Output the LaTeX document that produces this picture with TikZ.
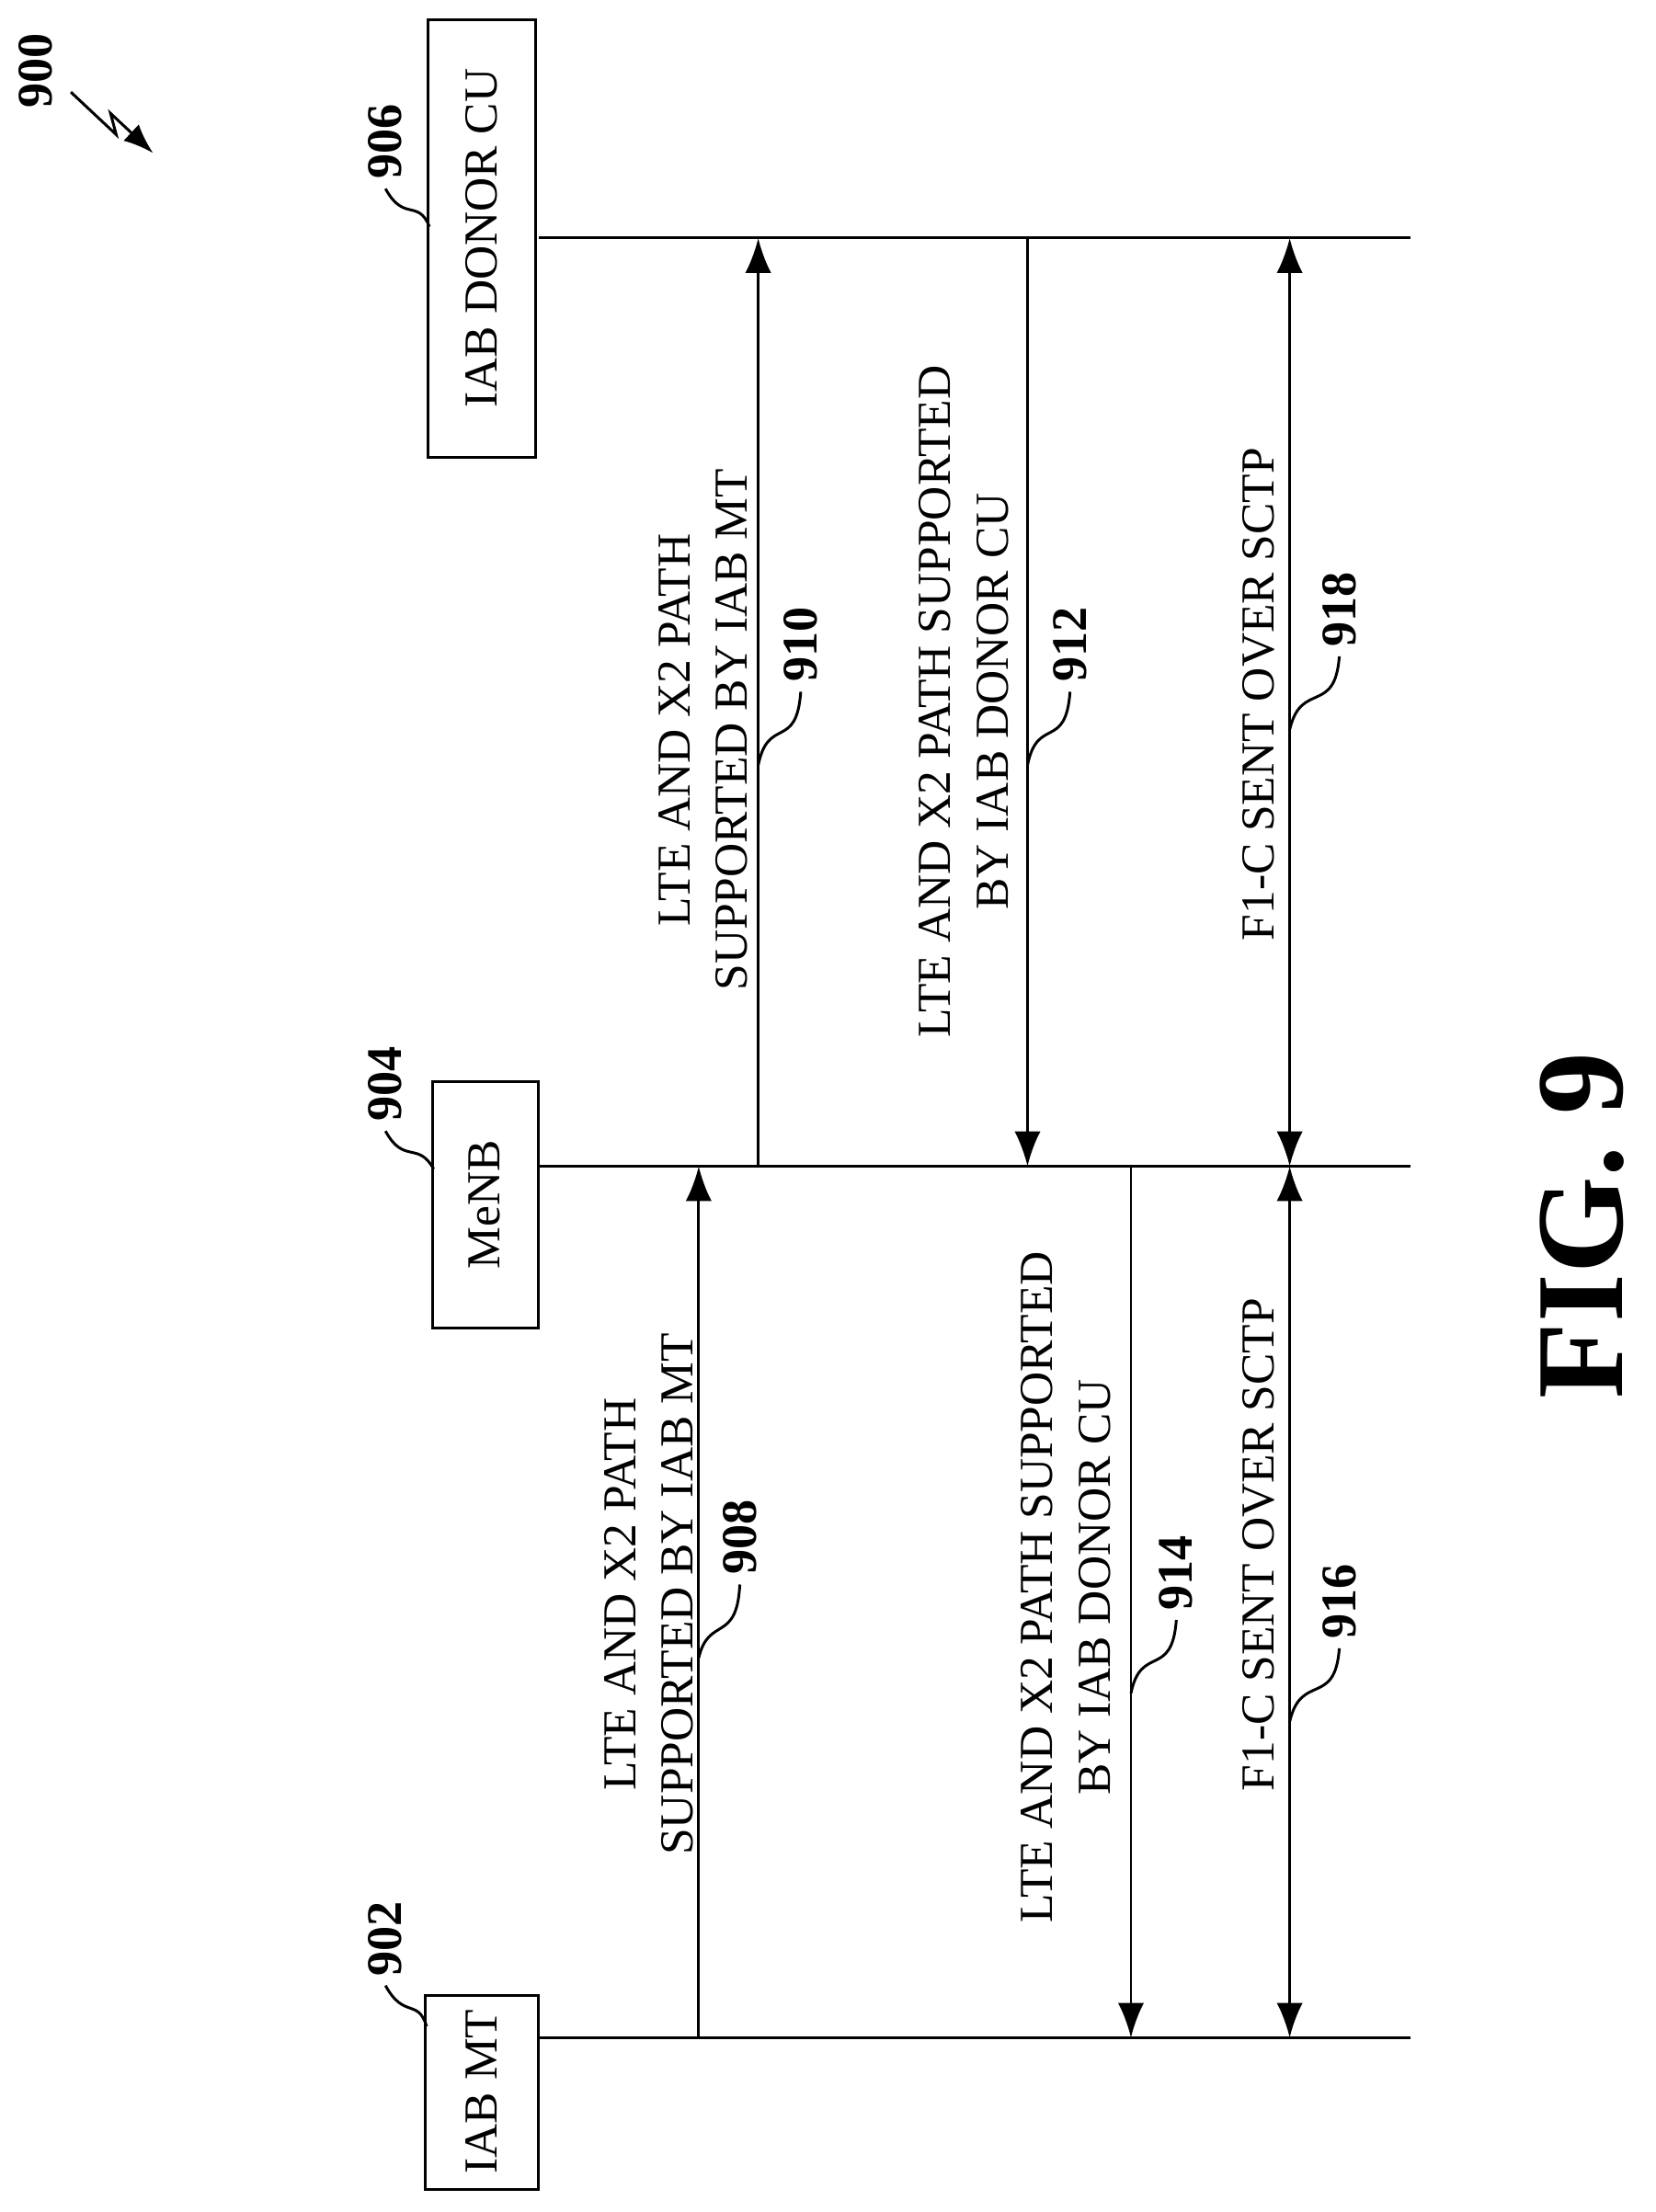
\documentclass[tikz,border=0pt]{standalone}
\usepackage{fontspec}
\setmainfont{Liberation Serif}
\usetikzlibrary{arrows.meta}
\begin{document}
\begin{tikzpicture}[x=0.02cm,y=-0.02cm,line width=1.1pt,
  lbl/.style={rotate=90,font=\fontsize{19}{23}\selectfont,align=center},
  num/.style={rotate=90,font=\fontsize{20}{24}\selectfont\bfseries}]
\useasboundingbox (0,0) rectangle (1168,1561);
% entities
\draw (300,1408) rectangle (380,1545);
\node[lbl] (mtT) at (340,1476) {IAB MT};
\draw (305,763) rectangle (380,937);
\node[lbl] (enbT) at (342,850) {MeNB};
\draw (302,14) rectangle (378,323);
\node[lbl] (cuT) at (340,168) {IAB DONOR CU};
% lifelines
\coordinate (mtA) at (380,1438); \coordinate (mtB) at (995,1438);
\coordinate (enbA) at (380,823); \coordinate (enbB) at (995,823);
\coordinate (cuA) at (380,168); \coordinate (cuB) at (995,168);
\draw (mtA) -- (mtB); \draw (enbA) -- (enbB); \draw (cuA) -- (cuB);
% reference numerals
\node[num] (n900) at (25,50) {900};
\draw[-{Latex[length=12pt]}] (50,65) -- (82,95) -- (78,80) -- (108,108);
\node[num] (n902) at (272,1368) {902};
\draw (n902.west) .. controls (285,1425) and (295,1410) .. (301,1430);
\node[num] (n904) at (272,765) {904};
\draw (n904.west) .. controls (285,822) and (295,805) .. (306,825);
\node[num] (n906) at (272,100) {906};
\draw (n906.west) .. controls (285,157) and (295,140) .. (303,160);
% messages
\draw[-{Latex[length=14pt]}] (493,1438) -- (493,823);
\node[lbl] (t908) at (458,1125) {LTE AND X2 PATH\\SUPPORTED BY IAB MT};
\node[num] (n908) at (522,1085) {908};
\draw (n908.west) .. controls (520,1160) and (500,1140) .. (493,1170);

\draw[-{Latex[length=14pt]}] (535,823) -- (535,168);
\node[lbl] (t910) at (496,515) {LTE AND X2 PATH\\SUPPORTED BY IAB MT};
\node[num] (n910) at (565,455) {910};
\draw (n910.west) .. controls (562,530) and (542,505) .. (535,540);

\draw[-{Latex[length=14pt]}] (725,168) -- (725,823);
\node[lbl] (t912) at (680,495) {LTE AND X2 PATH SUPPORTED\\BY IAB DONOR CU};
\node[num] (n912) at (755,455) {912};
\draw (n912.west) .. controls (752,530) and (732,505) .. (725,540);

\draw[-{Latex[length=14pt]}] (798,823) -- (798,1438);
\node[lbl] (t914) at (752,1120) {LTE AND X2 PATH SUPPORTED\\BY IAB DONOR CU};
\node[num] (n914) at (830,1110) {914};
\draw (n914.west) .. controls (827,1185) and (805,1160) .. (798,1195);

\draw[{Latex[length=14pt]}-{Latex[length=14pt]}] (910,823) -- (910,1438);
\node[lbl] (t916) at (888,1090) {F1-C SENT OVER SCTP};
\node[num] (n916) at (945,1130) {916};
\draw (n916.west) .. controls (942,1205) and (918,1180) .. (910,1215);

\draw[{Latex[length=14pt]}-{Latex[length=14pt]}] (910,168) -- (910,823);
\node[lbl] (t918) at (888,490) {F1-C SENT OVER SCTP};
\node[num] (n918) at (945,430) {918};
\draw (n918.west) .. controls (942,505) and (918,480) .. (910,515);
% figure caption
\node[rotate=90,font=\fontsize{50}{56}\selectfont\bfseries] (fig) at (1116,865) {FIG. 9};
\end{tikzpicture}
\end{document}
